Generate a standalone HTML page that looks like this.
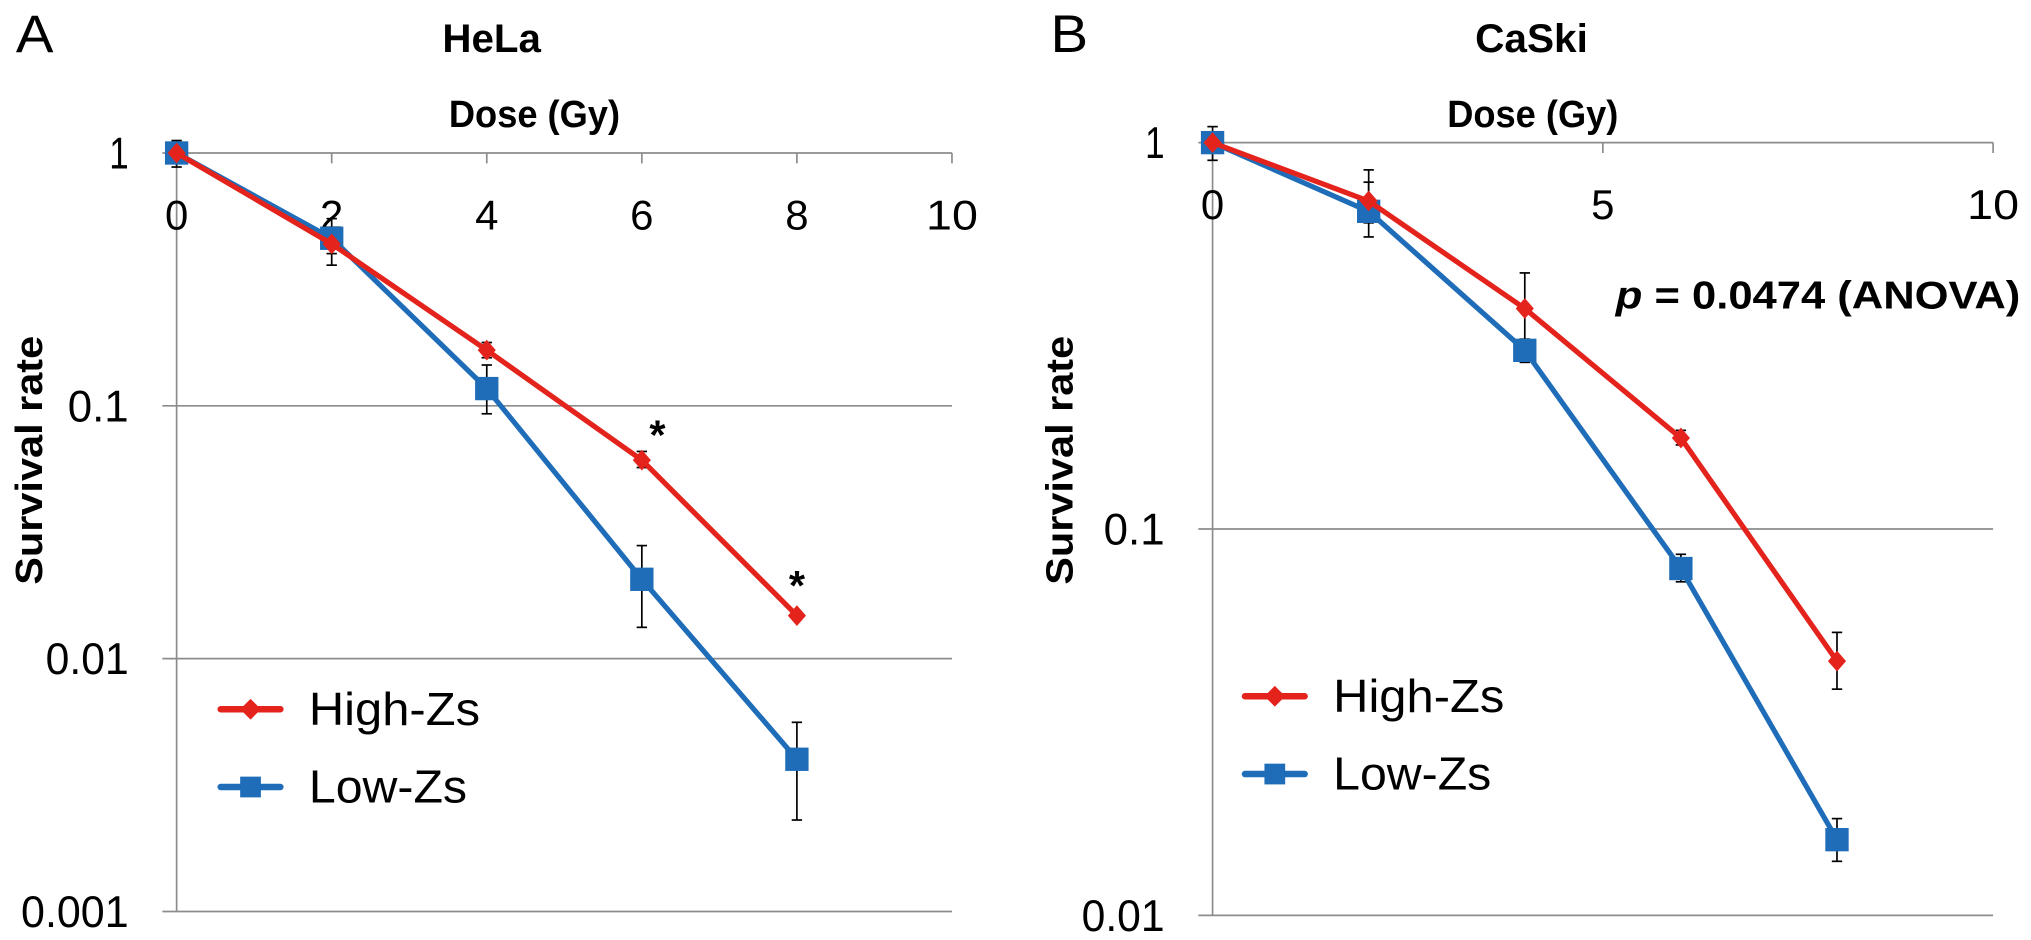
<!DOCTYPE html>
<html><head><meta charset="utf-8"><style>
html,body{margin:0;padding:0;background:#fff;}
svg{display:block;font-family:"Liberation Sans",sans-serif;}
</style></head><body>
<svg id="chart" width="2031" height="940" viewBox="0 0 1566 725">
<g id="pa"></g>
<g id="pb"></g>
</svg>
<script>
const doses = [0, 2, 4, 6, 8];
const helaHigh = [1, 0.437, 0.166, 0.061, 0.0148];
const helaHighErrLo = [0.97, 0.40, 0.155, 0.057, 0.0145];
const helaHighErrHi = [1.03, 0.48, 0.178, 0.066, 0.0152];
const helaLow = [1, 0.46, 0.117, 0.0206, 0.004];
const helaLowErrLo = [0.88, 0.36, 0.093, 0.0133, 0.0023];
const helaLowErrHi = [1.12, 0.55, 0.145, 0.028, 0.0056];
const caskiHigh = [1, 0.706, 0.372, 0.172, 0.0455];
const caskiHighErrLo = [0.97, 0.62, 0.30, 0.165, 0.0385];
const caskiHighErrHi = [1.03, 0.85, 0.46, 0.18, 0.054];
const caskiLow = [1, 0.664, 0.29, 0.079, 0.0157];
const caskiLowErrLo = [0.90, 0.57, 0.27, 0.073, 0.0138];
const caskiLowErrHi = [1.10, 0.79, 0.31, 0.086, 0.0178];
const helaXTicks = [0, 2, 4, 6, 8, 10];
const caskiXTicks = [0, 5, 10];
const helaYTicks = [1, 0.1, 0.01, 0.001];
const caskiYTicks = [1, 0.1, 0.01];
const helaYLabels = ["1", "0.1", "0.01", "0.001"];
const caskiYLabels = ["1", "0.1", "0.01"];

const NS = "http://www.w3.org/2000/svg";
function mk(parent, tag, attrs, name, text) {
  const e = document.createElementNS(NS, tag);
  for (const k in attrs) e.setAttribute(k, attrs[k]);
  
  
  if (text !== undefined) e.textContent = text;
  parent.appendChild(e);
  return e;
}
const yLabW = {1: 15, 3: 47, 4: 64, 5: 83};
function panel(g, cfg) {
  const sx = v => cfg.x0 + (v - 0) / 10 * (cfg.x1 - cfg.x0);
  const sy = v => cfg.yTop + (Math.log10(cfg.yMax) - Math.log10(v)) / (Math.log10(cfg.yMax) - Math.log10(cfg.yMin)) * (cfg.yBot - cfg.yTop);
  cfg.yTicks.forEach((t, i) => {
    mk(g, 'line', {x1: cfg.x0 - 11, x2: cfg.x1, y1: sy(t), y2: sy(t), stroke: '#8c8c8c', 'stroke-width': 1.3}, 'gridline');
    mk(g, 'text', {x: cfg.x0 - 37, y: sy(t) + 12, 'text-anchor': 'end', 'font-size': 34, 'textLength': yLabW[cfg.yLabels[i].length], 'lengthAdjust': 'spacingAndGlyphs'}, 'y-tick-label', cfg.yLabels[i]);
  });
  mk(g, 'line', {x1: cfg.x0, x2: cfg.x0, y1: cfg.yTop, y2: cfg.yBot, stroke: '#8c8c8c', 'stroke-width': 1.3}, 'y-axis-line');
  cfg.xTicks.forEach(t => {
    mk(g, 'line', {x1: sx(t), x2: sx(t), y1: cfg.yTop, y2: cfg.yTop + 8, stroke: '#8c8c8c', 'stroke-width': 1.3}, 'x-tick');
    mk(g, 'text', {x: sx(t), y: cfg.yTop + 59, 'text-anchor': 'middle', 'font-size': 32, 'textLength': String(t).length === 1 ? 18 : 40, 'lengthAdjust': 'spacingAndGlyphs'}, 'x-tick-label', String(t));
  });
  mk(g, 'text', {x: cfg.doseX, y: 98, 'text-anchor': 'middle', 'font-size': 29, 'font-weight': 'bold', 'textLength': 132, 'lengthAdjust': 'spacingAndGlyphs'}, 'x-axis-title', 'Dose (Gy)');
  mk(g, 'text', {x: cfg.titleX, y: 40, 'text-anchor': 'middle', 'font-size': 31, 'font-weight': 'bold', 'textLength': cfg.titleW, 'lengthAdjust': 'spacingAndGlyphs'}, 'chart-title', cfg.title);
  mk(g, 'text', {x: cfg.labelX, y: 40, 'font-size': 41, 'textLength': 29, 'lengthAdjust': 'spacingAndGlyphs'}, 'panel-label', cfg.label);
  mk(g, 'text', {x: 0, y: 0, transform: `translate(${cfg.surX},355) rotate(-90)`, 'text-anchor': 'middle', 'font-size': 29, 'font-weight': 'bold', 'textLength': 192, 'lengthAdjust': 'spacingAndGlyphs'}, 'y-axis-title', 'Survival rate');
  const series = [
    {v: cfg.low, lo: cfg.lowLo, hi: cfg.lowHi, c: '#1f6db8', m: 'square', n: 'low-zs'},
    {v: cfg.high, lo: cfg.highLo, hi: cfg.highHi, c: '#e3231c', m: 'diamond', n: 'high-zs'}
  ];
  series.forEach(s => {
    s.v.forEach((v, i) => {
      const x = sx(doses[i]);
      mk(g, 'line', {x1: x, x2: x, y1: sy(s.lo[i]), y2: sy(s.hi[i]), stroke: '#000', 'stroke-width': 1.3}, 'error-bar');
      mk(g, 'line', {x1: x - 4, x2: x + 4, y1: sy(s.lo[i]), y2: sy(s.lo[i]), stroke: '#000', 'stroke-width': 1.3}, 'error-cap');
      mk(g, 'line', {x1: x - 4, x2: x + 4, y1: sy(s.hi[i]), y2: sy(s.hi[i]), stroke: '#000', 'stroke-width': 1.3}, 'error-cap');
    });
  });
  series.forEach(s => {
    const pts = s.v.map((v, i) => sx(doses[i]) + ',' + sy(v)).join(' ');
    mk(g, 'polyline', {points: pts, fill: 'none', stroke: s.c, 'stroke-width': 4, 'stroke-linejoin': 'round'}, s.n + '-line');
    s.v.forEach((v, i) => {
      const x = sx(doses[i]), y = sy(v);
      if (s.m === 'square') mk(g, 'rect', {x: x - 9, y: y - 9, width: 18, height: 18, fill: s.c}, s.n + '-point');
      else mk(g, 'polygon', {points: `${x},${y - 8} ${x + 7},${y} ${x},${y + 8} ${x - 7},${y}`, fill: s.c}, s.n + '-point');
    });
  });
  const lx = cfg.legX, ly = cfg.legY;
  mk(g, 'line', {x1: lx + 2, x2: lx + 48, y1: ly, y2: ly, stroke: '#e3231c', 'stroke-width': 5, 'stroke-linecap': 'round'}, 'legend-line-high');
  mk(g, 'polygon', {points: `${lx + 25},${ly - 8} ${lx + 33},${ly} ${lx + 25},${ly + 8} ${lx + 17},${ly}`, fill: '#e3231c'}, 'legend-marker-high');
  mk(g, 'text', {x: lx + 70, y: ly + 12, 'font-size': 36, 'textLength': 132, 'lengthAdjust': 'spacingAndGlyphs'}, 'legend-entry-high', 'High-Zs');
  mk(g, 'line', {x1: lx + 2, x2: lx + 48, y1: ly + 60, y2: ly + 60, stroke: '#1f6db8', 'stroke-width': 5, 'stroke-linecap': 'round'}, 'legend-line-low');
  mk(g, 'rect', {x: lx + 17, y: ly + 52, width: 16, height: 16, fill: '#1f6db8'}, 'legend-marker-low');
  mk(g, 'text', {x: lx + 70, y: ly + 72, 'font-size': 36, 'textLength': 122, 'lengthAdjust': 'spacingAndGlyphs'}, 'legend-entry-low', 'Low-Zs');
  return {sx, sy};
}
const A = panel(document.getElementById('pa'), {x0: 136, x1: 734, yTop: 118, yBot: 703, yMax: 1, yMin: 0.001,
  xTicks: helaXTicks, yTicks: helaYTicks, yLabels: helaYLabels, title: 'HeLa', label: 'A',
  doseX: 412, titleX: 379, titleW: 76, labelX: 12, surX: 32,
  high: helaHigh, highLo: helaHighErrLo, highHi: helaHighErrHi, low: helaLow, lowLo: helaLowErrLo, lowHi: helaLowErrHi,
  legX: 168, legY: 547});
const B = panel(document.getElementById('pb'), {x0: 935, x1: 1537, yTop: 110, yBot: 706, yMax: 1, yMin: 0.01,
  xTicks: caskiXTicks, yTicks: caskiYTicks, yLabels: caskiYLabels, title: 'CaSki', label: 'B',
  doseX: 1182, titleX: 1181, titleW: 87, labelX: 810, surX: 827,
  high: caskiHigh, highLo: caskiHighErrLo, highHi: caskiHighErrHi, low: caskiLow, lowLo: caskiLowErrLo, lowHi: caskiLowErrHi,
  legX: 958, legY: 537});
const pa = document.getElementById('pa'), pb = document.getElementById('pb');
mk(pa, 'text', {x: A.sx(6) + 12, y: A.sy(0.061) - 8, 'text-anchor': 'middle', 'font-size': 32, 'font-weight': 'bold'}, 'significance-star', '*');
mk(pa, 'text', {x: A.sx(8), y: A.sy(0.0148) - 12, 'text-anchor': 'middle', 'font-size': 32, 'font-weight': 'bold'}, 'significance-star', '*');
const pt = mk(pb, 'text', {x: 1558, y: 238, 'text-anchor': 'end', 'font-size': 30, 'font-weight': 'bold', 'textLength': 312, 'lengthAdjust': 'spacingAndGlyphs'}, 'p-value-annotation', '');
pt.innerHTML = '<tspan font-style="italic">p</tspan> = 0.0474 (ANOVA)';
</script>
</body></html>
